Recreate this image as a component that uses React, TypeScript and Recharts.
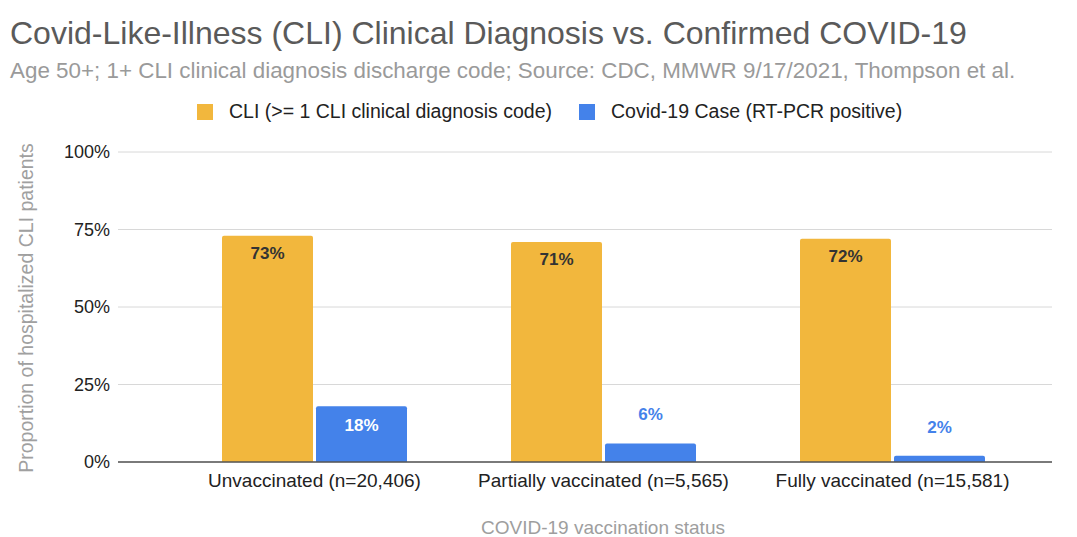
import React from 'react'
import {
  BarChart,
  Bar,
  XAxis,
  YAxis,
  CartesianGrid,
  Legend,
  LabelList
} from 'recharts'

// vaccination groups on the x axis
const categories = [
  'Unvaccinated (n=20,406)',
  'Partially vaccinated (n=5,565)',
  'Fully vaccinated (n=15,581)'
]
// share of hospitalized CLI patients, in percent
const cliValues = [73, 71, 72]
const covidValues = [18, 6, 2]
const yTicks = [0, 25, 50, 75, 100]

const CLI_NAME = 'CLI (>= 1 CLI clinical diagnosis code)'
const COVID_NAME = 'Covid-19 Case (RT-PCR positive)'

const ORANGE = '#F2B73D'
const BLUE = '#4482EA'
const FONT = '"Liberation Sans", Arial, sans-serif'

const data = categories.map((name, i) => ({
  name,
  cli: cliValues[i],
  covid: covidValues[i]
}))

const OrangeLabel = (props: any) => {
  const { x, y, width, value } = props
  return (
    <text
      x={x + width / 2}
      y={y + 23}
      textAnchor="middle"
      fontSize={17}
      fontWeight="bold"
      fill="#333"
      fontFamily={FONT}
    >
      {value}%
    </text>
  )
}

const BlueLabel = (props: any) => {
  const { x, y, width, value } = props
  // short bars get their label above the bar, in blue
  const inside = value >= 10
  return (
    <text
      x={x + width / 2}
      y={inside ? y + 25 : y - 23}
      textAnchor="middle"
      fontSize={17}
      fontWeight="bold"
      fill={inside ? '#ffffff' : BLUE}
      fontFamily={FONT}
    >
      {value}%
    </text>
  )
}

const LegendContent = (props: any) => {
  const { payload } = props
  return (
    <div style={{ display: 'flex', alignItems: 'center', paddingLeft: 197 }}>
      {(payload || []).map((p: any, i: number) => (
        <div
          key={i}
          style={{ display: 'flex', alignItems: 'center', marginRight: 27 }}
        >
          <span
            style={{
              display: 'inline-block',
              width: 16,
              height: 16,
              background: p.color,
              marginRight: 16
            }}
          />
          <span style={{ fontSize: 19.5, color: '#222', fontFamily: FONT }}>
            {p.value}
          </span>
        </div>
      ))}
    </div>
  )
}

export default function App() {
  return (
    <div
      style={{
        position: 'absolute',
        left: 0,
        top: 0,
        width: 1077,
        height: 537,
        background: '#fff',
        fontFamily: FONT
      }}
    >
      <BarChart
        width={1077}
        height={537}
        data={data}
        margin={{ top: 152, right: 25, left: 58, bottom: 45 }}
        barSize={91}
        barGap={3}
      >
        <CartesianGrid vertical={false} stroke="#d8d8d8" />
        <XAxis
          dataKey="name"
          interval={0}
          tickLine={false}
          tickSize={0}
          tickMargin={12}
          height={30}
          padding={{ left: 52, right: 15 }}
          axisLine={{ stroke: '#555', strokeWidth: 1.5 }}
          tick={{ fontSize: 19, fill: '#222', fontFamily: FONT }}
        />
        <YAxis
          domain={[0, 100]}
          ticks={yTicks}
          width={60}
          tickLine={false}
          axisLine={false}
          tickSize={0}
          tickMargin={8}
          tickFormatter={(v: number) => `${v}%`}
          tick={{ fontSize: 18, fill: '#222', fontFamily: FONT }}
        />
        <Legend
          verticalAlign="middle"
          align="center"
          layout="horizontal"
          wrapperStyle={{ top: 100, left: 0, width: 1077 }}
          content={<LegendContent />}
        />
        <Bar
          dataKey="cli"
          name={CLI_NAME}
          fill={ORANGE}
          radius={[2, 2, 0, 0]}
          isAnimationActive={false}
        >
          <LabelList dataKey="cli" content={<OrangeLabel />} />
        </Bar>
        <Bar
          dataKey="covid"
          name={COVID_NAME}
          fill={BLUE}
          radius={[2, 2, 0, 0]}
          isAnimationActive={false}
        >
          <LabelList dataKey="covid" content={<BlueLabel />} />
        </Bar>
      </BarChart>
      <svg
        width={1077}
        height={537}
        style={{ position: 'absolute', left: 0, top: 0, pointerEvents: 'none' }}
      >
        <text x={10} y={44} fontSize={32} fill="#5a5a5a" fontFamily={FONT}>
          Covid-Like-Illness (CLI) Clinical Diagnosis vs. Confirmed COVID-19
        </text>
        <text x={10} y={78} fontSize={22.4} fill="#9a9a9a" fontFamily={FONT}>
          Age 50+; 1+ CLI clinical diagnosis discharge code; Source: CDC, MMWR 9/17/2021, Thompson et al.
        </text>
        <text
          x={603}
          y={534}
          textAnchor="middle"
          fontSize={19}
          fill="#9e9e9e"
          fontFamily={FONT}
        >
          COVID-19 vaccination status
        </text>
        <text
          x={33}
          y={308}
          transform="rotate(-90 33 308)"
          textAnchor="middle"
          fontSize={19.5}
          fill="#a0a0a0"
          fontFamily={FONT}
        >
          Proportion of hospitalized CLI patients
        </text>
      </svg>
    </div>
  )
}
